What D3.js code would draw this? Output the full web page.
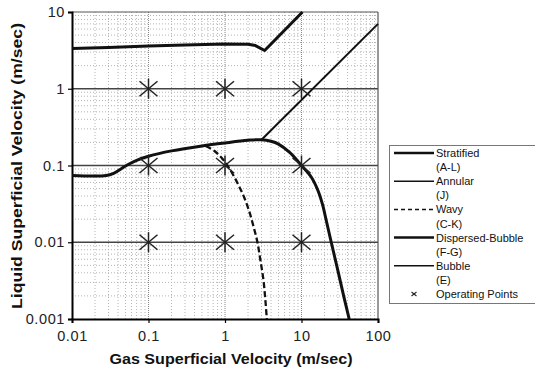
<!DOCTYPE html>
<html><head><meta charset="utf-8">
<script src="https://cdn.jsdelivr.net/npm/d3@7"></script>
<style>body{margin:0;background:#fff;}svg{display:block;font-family:"Liberation Sans",Arial,sans-serif;}</style>
</head><body>
<svg id="c" width="535" height="370"></svg>
<script>
const xTickValues = [0.01, 0.1, 1, 10, 100];
const xTickLabels = ["0.01", "0.1", "1", "10", "100"];
const yTickValues = [0.001, 0.01, 0.1, 1, 10];
const yTickLabels = ["0.001", "0.01", "0.1", "1", "10"];

const stratifiedX = [0.01, 0.028, 0.035, 0.045, 0.055, 0.07, 0.1, 0.2, 0.5, 1, 2, 3, 4, 5, 7, 10, 13.4, 16.5, 18.9, 21, 24.1, 30, 36, 42];
const stratifiedY = [0.074, 0.074, 0.079, 0.092, 0.104, 0.117, 0.132, 0.155, 0.18, 0.197, 0.213, 0.217, 0.207, 0.19, 0.148, 0.1, 0.0708, 0.0466, 0.0306, 0.0195, 0.0107, 0.0042, 0.0019, 0.001];
const annularX = [3, 100];
const annularY = [0.217, 7];
const wavyX = [0.557, 0.729, 0.955, 1.216, 1.5, 1.795, 2.085, 2.35, 2.65, 2.9, 3.18, 3.37, 3.52];
const wavyY = [0.1795, 0.1545, 0.118, 0.0823, 0.0557, 0.0377, 0.0248, 0.0163, 0.0101, 0.00587, 0.00322, 0.00177, 0.001];
const dispersedX = [0.01, 0.03, 0.1, 0.3, 1, 2, 2.5, 3.3, 10.3];
const dispersedY = [3.35, 3.45, 3.6, 3.72, 3.82, 3.8, 3.65, 3.15, 10];
const bubbleX = [];
const bubbleY = [];
const opX = [0.1, 1, 10, 0.1, 1, 10, 0.1, 1, 10];
const opY = [1, 1, 1, 0.1, 0.1, 0.1, 0.01, 0.01, 0.01];

const seriesNames = ["Stratified", "Annular", "Wavy", "Dispersed-Bubble", "Bubble"];
const seriesCodes = ["(A-L)", "(J)", "(C-K)", "(F-G)", "(E)"];

const series = [
  {name: seriesNames[0], code: seriesCodes[0], xs: stratifiedX, ys: stratifiedY, w: 3, dash: null, smooth: true},
  {name: seriesNames[1], code: seriesCodes[1], xs: annularX, ys: annularY, w: 2, dash: null, smooth: false},
  {name: seriesNames[2], code: seriesCodes[2], xs: wavyX, ys: wavyY, w: 2.3, dash: "6,3", smooth: true},
  {name: seriesNames[3], code: seriesCodes[3], xs: dispersedX, ys: dispersedY, w: 3, dash: null, smooth: false},
  {name: seriesNames[4], code: seriesCodes[4], xs: bubbleX, ys: bubbleY, w: 2, dash: null, smooth: false}
];

const svg = d3.select("#c");
const L = 72, R = 378, T = 12, B = 319;
const x = d3.scaleLog().domain([0.01, 100]).range([L, R]);
const y = d3.scaleLog().domain([0.001, 10]).range([B, T]);

// minor grid
const minors = [];
for (let e = -3; e < 2; e++) for (let k = 2; k <= 9; k++) minors.push(k * Math.pow(10, e));
const g = svg.append("g");
g.selectAll(".mx").data(minors.filter(v => v > 0.01 && v < 100)).enter().append("line")
  .attr("x1", d => x(d)).attr("x2", d => x(d)).attr("y1", T).attr("y2", B)
  .attr("stroke", "#b4b4b4").attr("stroke-width", 1).attr("stroke-dasharray", "1,2");
g.selectAll(".my").data(minors.filter(v => v > 0.001 && v < 10)).enter().append("line")
  .attr("x1", L).attr("x2", R).attr("y1", d => y(d)).attr("y2", d => y(d))
  .attr("stroke", "#b4b4b4").attr("stroke-width", 1).attr("stroke-dasharray", "1,2");
// major grid
g.selectAll(".Mx").data([0.1, 1, 10]).enter().append("line")
  .attr("x1", d => x(d)).attr("x2", d => x(d)).attr("y1", T).attr("y2", B)
  .attr("stroke", "#888").attr("stroke-width", 1).attr("stroke-dasharray", "1,1");
g.selectAll(".My").data([0.01, 0.1, 1]).enter().append("line")
  .attr("x1", L).attr("x2", R).attr("y1", d => y(d)).attr("y2", d => y(d))
  .attr("stroke", "#444").attr("stroke-width", 1.5);
// frame top/right
svg.append("line").attr("x1", L).attr("x2", R).attr("y1", T).attr("y2", T).attr("stroke", "#555").attr("stroke-width", 1.2);
svg.append("line").attr("x1", R).attr("x2", R).attr("y1", T).attr("y2", B).attr("stroke", "#555").attr("stroke-width", 1.2);

// axes
const xAxis = d3.axisBottom(x).tickValues(xTickValues).tickFormat((d, i) => xTickLabels[i]).tickSize(4).tickPadding(8);
const yAxis = d3.axisLeft(y).tickValues(yTickValues).tickFormat((d, i) => yTickLabels[i]).tickSize(4).tickPadding(3);
const gx = svg.append("g").attr("transform", `translate(0,${B})`).call(xAxis);
const gy = svg.append("g").attr("transform", `translate(${L},0)`).call(yAxis);
[gx, gy].forEach(a => {
  a.select(".domain").attr("stroke", "#000").attr("stroke-width", 2);
  a.selectAll(".tick line").attr("stroke", "#000").attr("stroke-width", 1.2);
  a.selectAll("text").attr("font-size", 14.5).attr("fill", "#222").attr("font-family", "Liberation Sans, Arial, sans-serif").style("letter-spacing", "0.6px");
});

// curves
const lineSmooth = d3.line().x(d => x(d[0])).y(d => y(d[1])).curve(d3.curveCatmullRom.alpha(0.5));
const lineStraight = d3.line().x(d => x(d[0])).y(d => y(d[1]));
series.forEach(s => {
  const pts = s.xs.map((v, i) => [v, s.ys[i]]);
  if (pts.length < 2) return;
  const p = svg.append("path").attr("d", (s.smooth ? lineSmooth : lineStraight)(pts)).attr("fill", "none")
    .attr("stroke", "#111").attr("stroke-width", s.w).attr("stroke-linejoin", "round");
  if (s.dash) p.attr("stroke-dasharray", s.dash);
});

// operating points (asterisks)
const star = (sel, cx, cy, a, b, c, w) => {
  if (c > 0) sel.append("line").attr("x1", cx).attr("x2", cx).attr("y1", cy - c).attr("y2", cy + c).attr("stroke", "#222").attr("stroke-width", w);
  sel.append("line").attr("x1", cx - a).attr("x2", cx + a).attr("y1", cy - b).attr("y2", cy + b).attr("stroke", "#222").attr("stroke-width", w);
  sel.append("line").attr("x1", cx - a).attr("x2", cx + a).attr("y1", cy + b).attr("y2", cy - b).attr("stroke", "#222").attr("stroke-width", w);
};
const sg = svg.append("g");
opX.forEach((v, i) => star(sg, x(v), y(opY[i]), 9, 7.5, 10, 1.5));

// axis titles
svg.append("text").attr("x", 231).attr("y", 364).attr("text-anchor", "middle")
  .attr("font-size", 15.5).attr("font-weight", "bold").attr("fill", "#111")
  .attr("textLength", 243).attr("lengthAdjust", "spacingAndGlyphs").text("Gas Superficial Velocity (m/sec)");
svg.append("text").attr("transform", `translate(22,166) rotate(-90)`).attr("text-anchor", "middle")
  .attr("font-size", 15.5).attr("font-weight", "bold").attr("fill", "#111")
  .attr("textLength", 286).attr("lengthAdjust", "spacingAndGlyphs").text("Liquid Superficial Velocity (m/sec)");

// legend
const lg = svg.append("g");
lg.append("rect").attr("x", 389.5).attr("y", 145.5).attr("width", 150).attr("height", 158)
  .attr("fill", "#fff").attr("stroke", "#777").attr("stroke-width", 1);
const rowH = 14.1, row0 = 153;
series.forEach((s, i) => {
  const yy = row0 + i * 2 * rowH;
  const l = lg.append("line").attr("x1", 394).attr("x2", 434).attr("y1", yy).attr("y2", yy)
    .attr("stroke", "#111").attr("stroke-width", s.w === 3 ? 2.5 : 1.5);
  if (s.dash) l.attr("stroke-dasharray", "4,3");
  lg.append("text").attr("x", 436).attr("y", yy + 4).attr("font-size", 11).attr("fill", "#111").text(s.name);
  lg.append("text").attr("x", 436).attr("y", yy + rowH + 4).attr("font-size", 11).attr("fill", "#111").text(s.code);
});
const yOp = row0 + 10 * rowH;
star(lg, 414, yOp, 2.5, 2, 0, 1.1);
lg.append("text").attr("x", 436).attr("y", yOp + 4).attr("font-size", 11).attr("fill", "#111").text("Operating Points");
</script>
</body></html>
